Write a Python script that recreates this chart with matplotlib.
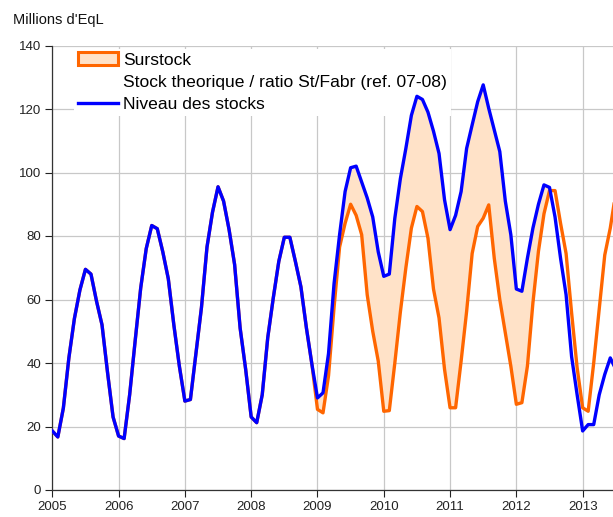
import numpy as np
import matplotlib.pyplot as plt
from matplotlib.patches import Patch
from matplotlib.lines import Line2D

plt.rcParams['font.family'] = ['Liberation Sans', 'DejaVu Sans']

# monthly values, millions d'EqL, starting Jan 2005
start_year = 2005
niveau = [
    # 2005
    18.6, 16.7, 25.8, 41.6, 54, 63, 69.5, 68, 59.5, 52, 37, 23,
    # 2006
    17, 16.2, 30, 47, 63.6, 76, 83.3, 82.3, 75, 66.5, 52, 39,
    # 2007
    28, 28.5, 43, 57.5, 76.5, 87.5, 95.5, 91, 82, 71, 51, 38,
    # 2008
    23, 21.2, 30, 48, 60.5, 72, 79.6, 79.6, 72, 64, 51, 39.5,
    # 2009
    29, 30.6, 43, 65, 80.4, 94, 101.5, 102, 97, 92, 86, 75,
    # 2010
    67.3, 68, 85.6, 98, 107.6, 118, 124, 123, 119, 113, 106, 91.4,
    # 2011
    82, 86.5, 94, 107.6, 115, 122.3, 127.6, 120.2, 113.4, 106.6, 91, 80.4,
    # 2012
    63.3, 62.6, 73, 82.5, 90, 96.1, 95.3, 86, 73, 61.5, 42, 30,
    # 2013
    18.6, 20.6, 20.6, 30, 36.4, 41.6, 38,
]

# theoretical stock: same as actual over 2005-2008, own values after
theorique_apres_2009 = [
    # 2009
    25.4, 24.3, 36, 57.5, 76.5, 84, 90, 86.5, 80.4, 61.5, 50, 40.6,
    # 2010
    24.8, 25, 40, 56, 70, 82.5, 89.3, 87.7, 79.3, 63.3, 54.2, 38,
    # 2011
    25.9, 25.9, 40.6, 56.3, 74.5, 83, 85.6, 89.8, 73, 60, 49.5, 39,
    # 2012
    27, 27.5, 39, 59, 75.2, 87, 94.3, 94.3, 84, 74.5, 55.8, 38.5,
    # 2013
    25.9, 24.8, 40, 57, 74, 82.5, 93.7,
]
theorique = niveau[:48] + theorique_apres_2009

annees = list(range(2005, 2014))
yticks = list(range(0, 141, 20))

niv = np.array(niveau)
theo = np.array(theorique)
x = start_year + np.arange(len(niv)) / 12.0

blue = '#0000FF'
orange = '#FF6600'
peach = '#FFE2C8'

fig = plt.figure(figsize=(6.13, 5.17), dpi=100)
ax = fig.add_axes([52.3/613, 27/517, 563.5/613, 444.5/517])

ax.fill_between(x, theo, niv, where=niv >= theo, interpolate=True,
                facecolor=peach, edgecolor='none', zorder=2)
ax.plot(x, theo, color=orange, lw=2.4, zorder=3)
ax.plot(x, niv, color=blue, lw=2.4, zorder=4)

ax.set_xlim(2005, 2013.5)
ax.set_ylim(0, 140)
ax.set_xticks(annees)
ax.set_yticks(yticks)
ax.tick_params(labelsize=9.5, length=5, width=0.8, colors='#222222', pad=3)
ax.grid(True, color='#c8c8c8', lw=0.9, zorder=0.5)
ax.set_axisbelow(True)
for s in ['top', 'right']:
    ax.spines[s].set_visible(False)
for s in ['left', 'bottom']:
    ax.spines[s].set_color('#333333')
    ax.spines[s].set_linewidth(0.9)

fig.text(13/613, 1 - 20/517, "Millions d'EqL", fontsize=10.5, va='center',
         ha='left', color='#111111')

handles = [
    Patch(facecolor=peach, edgecolor=orange, lw=2.2),
    Line2D([], [], color='none'),
    Line2D([], [], color=blue, lw=2.4),
]
labels = ['Surstock', 'Stock theorique / ratio St/Fabr (ref. 07-08)',
          'Niveau des stocks']
# legend sits above the grid but below the fill and lines
leg = ax.legend(handles, labels, loc='upper left',
                bbox_to_anchor=(74/613, 1 - 49/517),
                bbox_transform=fig.transFigure, fontsize=12.6,
                frameon=True, facecolor='white', edgecolor='none',
                framealpha=1, fancybox=False, borderpad=0.2,
                borderaxespad=0, labelspacing=0.38, handlelength=2.3,
                handleheight=0.75, handletextpad=0.3)
leg.set_zorder(1)

fig.savefig('out.png', dpi=100)
